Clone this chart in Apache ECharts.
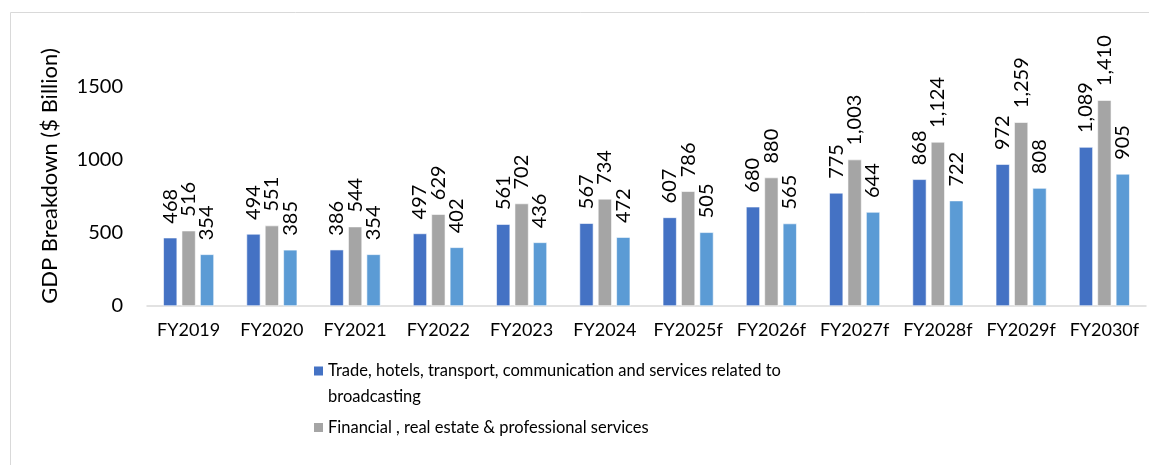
<!DOCTYPE html>
<html>
<head>
<meta charset="utf-8">
<title>GDP Breakdown</title>
<script src="https://cdn.jsdelivr.net/npm/echarts@6/dist/echarts.min.js"></script>
<style>
  html, body { margin: 0; padding: 0; background: #fff; }
  #main { width: 1149px; height: 465px; }
</style>
</head>
<body>
<div id="main"></div>
<script>
// categories
var years = ['FY2019', 'FY2020', 'FY2021', 'FY2022', 'FY2023', 'FY2024',
    'FY2025f', 'FY2026f', 'FY2027f', 'FY2028f', 'FY2029f', 'FY2030f'];
// series values ($ Billion)
var tradeVals = [468, 494, 386, 497, 561, 567, 607, 680, 775, 868, 972, 1089];
var financeVals = [516, 551, 544, 629, 702, 734, 786, 880, 1003, 1124, 1259, 1410];
var communityVals = [354, 385, 354, 402, 436, 472, 505, 565, 644, 722, 808, 905];
// y ticks
var yTicks = [0, 500, 1000, 1500];

var names = [
    'Trade, hotels, transport, communication and services related to broadcasting',
    'Financial , real estate & professional services',
    'Community, social & personal services'
];
var colors = ['#4472C4', '#A5A5A5', '#5B9BD5'];
var font = 'Lato, "Open Sans", sans-serif';

// legend squares: top-aligned for the wrapped entry, centred for the single line one
var iconTop = 'path://M0,0h9v9h-9z M0,35h0.01';
var iconMid = 'path://M0,13h9v9h-9z M0,0h0.01 M0,35h0.01';

function fmt(v) {
    return String(v).replace(/\B(?=(\d{3})+(?!\d))/g, ',');
}

function makeSeries(name, data, color) {
    return {
        name: name,
        type: 'bar',
        data: data,
        barGap: '32%',
        barCategoryGap: '39%',
        itemStyle: { color: color, borderColor: '#ffffff', borderWidth: 0.6 },
        label: {
            show: true,
            position: 'top',
            rotate: 90,
            align: 'left',
            verticalAlign: 'middle',
            distance: 14,
            fontFamily: font,
            fontSize: 20,
            color: '#000',
            formatter: function(p) { return fmt(p.value); }
        }
    };
}

var chart = echarts.init(document.getElementById('main'));
var option = {
    animation: false,
    textStyle: { fontFamily: font },
    grid: { left: 147, right: 3, top: 87, bottom: 159, containLabel: false },
    graphic: [{
        type: 'rect',
        shape: { x: 10.5, y: 12.5, width: 1160, height: 480 },
        style: { fill: 'none', stroke: '#d9d9d9', lineWidth: 1 },
        silent: true
    }, {
        type: 'text',
        x: 50,
        y: 176,
        rotation: Math.PI / 2,
        style: {
            text: 'GDP Breakdown ($ Billion)',
            fontFamily: font,
            fontSize: 22,
            fill: '#000',
            align: 'center',
            verticalAlign: 'middle'
        }
    }],
    legend: {
        data: [
            { name: names[0], icon: iconTop },
            { name: names[1], icon: iconMid }
        ],
        orient: 'vertical',
        left: 309,
        top: 353,
        itemWidth: 9,
        itemHeight: 35,
        itemGap: 0,
        itemStyle: { borderWidth: 0 },
        textStyle: {
            fontFamily: font,
            fontSize: 16.5,
            color: '#000',
            width: 475,
            overflow: 'break',
            lineHeight: 26
        }
    },
    xAxis: {
        type: 'category',
        data: years,
        axisLine: { lineStyle: { color: '#d9d9d9', width: 1.5 } },
        axisTick: { show: false },
        axisLabel: { color: '#000', fontSize: 18, fontFamily: font, margin: 15, interval: 0 }
    },
    yAxis: {
        type: 'value',
        min: yTicks[0],
        max: yTicks[yTicks.length - 1],
        interval: yTicks[1] - yTicks[0],
        splitLine: { show: false },
        axisLine: { show: false },
        axisTick: { show: false },
        axisLabel: {
            color: '#000', fontSize: 20, fontFamily: font, margin: 24,
            formatter: function(v) { return String(v); }
        }
    },
    series: [
        makeSeries(names[0], tradeVals, colors[0]),
        makeSeries(names[1], financeVals, colors[1]),
        makeSeries(names[2], communityVals, colors[2])
    ]
};
chart.setOption(option);
</script>
</body>
</html>
